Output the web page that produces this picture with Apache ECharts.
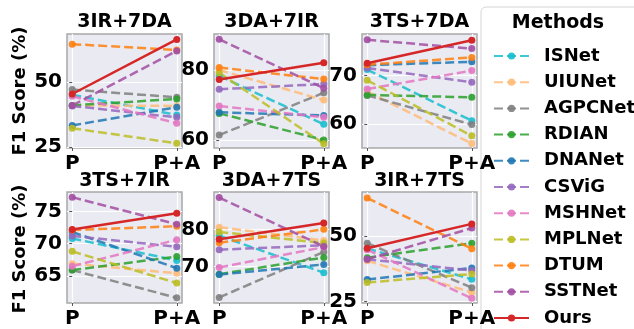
<!DOCTYPE html>
<html><head><meta charset="utf-8">
<script src="https://cdn.jsdelivr.net/npm/echarts@6/dist/echarts.min.js"></script>
<style>html,body{margin:0;padding:0;background:#fff}#c{width:634px;height:329px}</style>
</head><body><div id="c"></div>
<script>
const panelTitles = ['3IR+7DA','3DA+7IR','3TS+7DA','3TS+7IR','3DA+7TS','3IR+7TS'];
const xLabels = ['P','P+A'];
const methods = ['ISNet','UIUNet','AGPCNet','RDIAN','DNANet','CSViG','MSHNet','MPLNet','DTUM','SSTNet','Ours'];
const colors = ['#17becf','#ffbb78','#7f7f7f','#2ca02c','#1f77b4','#9467bd','#e377c2','#bcbd22','#ff7f0e','#a24ea2','#d62728'];
const yTicks = [[25,50],[60,80],[60,70],[65,70,75],[70,80],[25,50]];
const yMin = [24.6,57.7,55.1,60.8,60.1,24.5];
const yMax = [68.5,90.3,78.5,78.0,90.1,66.6];

// [P, P+A] per panel, in panelTitles order
const ISNet   = [[45.1,37.3],[78.3,64.5],[71.2,60.7],[70.8,67.4],[78.3,68.3],[45.2,33.5]];
const UIUNet  = [[41.0,40.8],[80.0,71.4],[66.7,56.0],[66.9,65.4],[80.6,77.0],[40.5,28.5]];
const AGPCNet = [[47.1,44.1],[61.4,73.5],[65.9,59.9],[65.9,61.6],[61.6,73.9],[47.2,30.3]];
const RDIAN   = [[41.0,43.5],[67.6,60.0],[66.0,65.5],[65.9,68.0],[67.9,72.4],[41.7,47.2]];
const DNANet  = [[33.3,40.3],[67.9,67.0],[72.1,72.8],[71.8,66.2],[67.8,70.5],[33.4,37.8]];
const CSViG   = [[40.8,36.4],[74.5,76.0],[71.5,68.6],[71.2,69.5],[74.5,75.7],[41.1,36.8]];
const MSHNet  = [[44.5,34.1],[69.7,66.5],[67.2,71.0],[66.5,70.6],[69.7,75.2],[44.7,26.3]];
const MPLNet  = [[32.2,26.4],[79.2,58.9],[69.0,57.6],[68.8,63.9],[79.3,76.3],[32.3,35.5]];
const DTUM    = [[64.6,62.3],[80.7,77.4],[72.2,73.7],[72.1,72.7],[76.4,80.0],[64.3,45.1]];
const SSTNet  = [[41.0,62.0],[88.8,74.8],[77.3,75.5],[77.2,73.0],[88.6,75.4],[41.1,52.9]];
const Ours    = [[45.4,66.4],[77.3,82.1],[72.5,77.2],[72.2,74.7],[77.3,81.7],[45.3,54.5]];
const allData = [ISNet,UIUNet,AGPCNet,RDIAN,DNANet,CSViG,MSHNet,MPLNet,DTUM,SSTNet,Ours];

const FONT = 'DejaVu Sans';
const lefts = [67,214,362], tops = [34,192], W = 115, Hs = [114,115];
const grids = [], xAxes = [], yAxes = [], series = [], graphics = [];

graphics.push({type:'rect', z:0, shape:{x:481,y:7,width:170,height:340,r:5}, style:{fill:'#fff',stroke:'#d4d4d4',lineWidth:1}});
graphics.push({type:'text', z:10, style:{text:'Methods', x:558, y:23, textAlign:'center', textVerticalAlign:'middle', font:'bold 19px "DejaVu Sans"', fill:'#000'}});

for (let p=0;p<6;p++){
  const r = Math.floor(p/3), c = p%3;
  grids.push({left:lefts[c], top:tops[r], width:W, height:Hs[r], show:true, backgroundColor:'#EAEAF2', borderColor:'#a8a8a8', borderWidth:1.5});
  xAxes.push({type:'value', gridIndex:p, min:-0.05, max:1.05,
    axisLine:{show:false},
    axisTick:{show:true, length:3, lineStyle:{color:'#555'}, customValues:[0,1]},
    axisLabel:{customValues:[0,1], formatter:v=>xLabels[Math.round(v)], fontFamily:FONT, fontWeight:'bold', fontSize:20, color:'#000', margin:6},
    splitLine:{show:true, lineStyle:{color:'#fff', width:1.2}}
  });
  yAxes.push({type:'value', gridIndex:p, min:yMin[p], max:yMax[p],
    axisLine:{show:false},
    axisTick:{show:true, length:3, lineStyle:{color:'#555'}, customValues:yTicks[p]},
    axisLabel:{customValues:yTicks[p], fontFamily:FONT, fontWeight:'bold', fontSize:20, color:'#000', margin:5},
    splitLine:{show:true, lineStyle:{color:'#fff', width:1.2}}
  });
  graphics.push({type:'text', z:10, style:{text:panelTitles[p], x:lefts[c]+W/2, y:(r===0?22:181), textAlign:'center', textVerticalAlign:'middle', font:'bold 19px "DejaVu Sans"', fill:'#000'}});
  methods.forEach((m,i)=>{
    const isOurs = m==='Ours';
    series.push({type:'line', name:m, xAxisIndex:p, yAxisIndex:p,
      data:[[0,allData[i][p][0]],[1,allData[i][p][1]]],
      symbol:'circle', symbolSize:7, z: isOurs?5:2,
      itemStyle:{color:colors[i], opacity: isOurs?1:0.9},
      lineStyle:{color:colors[i], width:2.5, type: isOurs?'solid':[9,4], opacity: isOurs?1:0.85},
      emphasis:{disabled:true}, animation:false
    });
  });
}
graphics.push({type:'text', z:10, rotation:Math.PI/2, x:20, y:91, style:{text:'F1 Score (%)', x:0, y:0, textAlign:'center', textVerticalAlign:'middle', font:'bold 18px "DejaVu Sans"', fill:'#000'}});
graphics.push({type:'text', z:10, rotation:Math.PI/2, x:20, y:249, style:{text:'F1 Score (%)', x:0, y:0, textAlign:'center', textVerticalAlign:'middle', font:'bold 18px "DejaVu Sans"', fill:'#000'}});

const chart = echarts.init(document.getElementById('c'), null, {renderer:'canvas'});
chart.setOption({
  animation:false,
  grid:grids, xAxis:xAxes, yAxis:yAxes, series:series,
  legend:{data:methods, orient:'vertical', left:488, top:42, width:150, height:400, itemWidth:35, itemHeight:9, itemGap:8.2,
    textStyle:{fontFamily:FONT, fontWeight:'bold', fontSize:18, color:'#000', lineHeight:18, padding:[0,0,0,10]},
    selectedMode:false, z:20},
  graphic:graphics
});
</script></body></html>
